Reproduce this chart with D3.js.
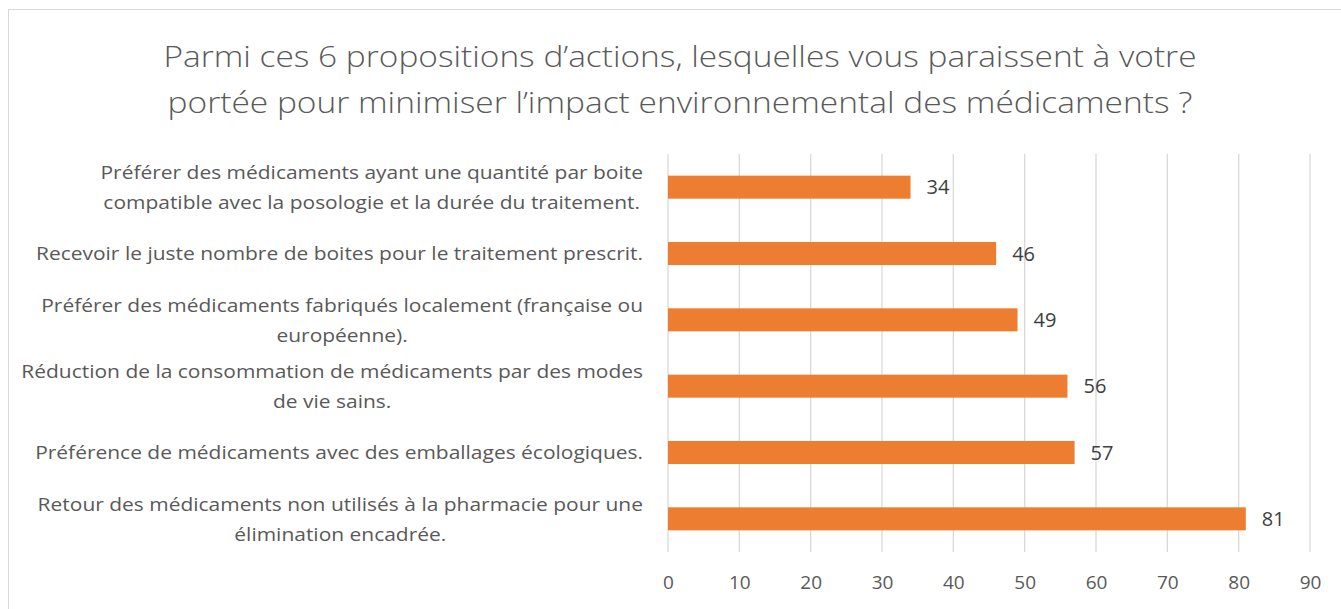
<!DOCTYPE html>
<html><head><meta charset="utf-8">
<script src="https://cdn.jsdelivr.net/npm/d3@7"></script>
<style>html,body{margin:0;padding:0;background:#fff;overflow:hidden}</style>
</head><body>
<svg id="chart" width="1341" height="609"></svg>
<script>
const titleLines = ["Parmi ces 6 propositions d’actions, lesquelles vous paraissent à votre",
                    "portée pour minimiser l’impact environnemental des médicaments ?"];
const categories = [
  ["Préférer des médicaments ayant une quantité par boite", "compatible avec la posologie et la durée du traitement."],
  ["Recevoir le juste nombre de boites pour le traitement prescrit."],
  ["Préférer des médicaments fabriqués localement (française ou", "européenne)."],
  ["Réduction de la consommation de médicaments par des modes", "de vie sains."],
  ["Préférence de médicaments avec des emballages écologiques."],
  ["Retour des médicaments non utilisés à la pharmacie pour une", "élimination encadrée."]
];
const values = [34, 46, 49, 56, 57, 81];
const xTicks = [0, 10, 20, 30, 40, 50, 60, 70, 80, 90];

const FONT = "'Open Sans', 'Noto Sans', sans-serif";
const svg = d3.select("#chart");

svg.append("rect").attr("x", 8.5).attr("y", 9.5).attr("width", 1400).attr("height", 700)
  .attr("fill", "#fff").attr("stroke", "#d9d9d9").attr("stroke-width", 1);

const x = d3.scaleLinear().domain([0, 90]).range([668, 1310]);
const keys = categories.map((c, i) => i);
const p = 0.653;
const y = d3.scaleBand().domain(keys).range([154, 552]).paddingInner(p).paddingOuter(p / 2);

// gridlines
svg.append("g").selectAll("line").data(xTicks).join("line")
  .attr("x1", d => x(d)).attr("x2", d => x(d)).attr("y1", 154).attr("y2", 552)
  .attr("stroke", "#d9d9d9").attr("stroke-width", 1.3);

// tick labels via axis
const ax = svg.append("g").attr("transform", "translate(0,575)")
  .call(d3.axisBottom(x).tickValues(xTicks).tickSize(0).tickPadding(0));
ax.select(".domain").remove();
ax.selectAll("text").attr("font-family", FONT).attr("font-size", 19).attr("fill", "#595959")
  .attr("dy", "0.71em");

// bars
svg.append("g").selectAll("rect").data(values).join("rect")
  .attr("x", x(0)).attr("y", (d, i) => y(i)).attr("width", d => x(d) - x(0))
  .attr("height", y.bandwidth()).attr("fill", "#ED7D31");

// value labels
svg.append("g").selectAll("text").data(values).join("text")
  .attr("x", d => x(d) + 16).attr("y", (d, i) => y(i) + y.bandwidth() / 2)
  .attr("dy", "0.36em").attr("font-family", FONT).attr("font-size", 20)
  .attr("fill", "#404040").text(d => d);

function measure(str, size) {
  const t = svg.append("text").attr("font-family", FONT).attr("font-size", size).text(str);
  const w = t.node().getComputedTextLength();
  t.remove();
  return w;
}

// category labels
const LS = 19;
const kLab = 607 / measure(categories[1][0], LS);
const labelRight = 643;
const lineH = 30;
const lg = svg.append("g");
categories.forEach((lines, i) => {
  const cy = y(i) + y.bandwidth() / 2;
  const widths = lines.map(l => measure(l, LS) * kLab);
  const bw = d3.max(widths);
  const cx = labelRight - bw / 2;
  lines.forEach((l, j) => {
    const ly = cy + (j - (lines.length - 1) / 2) * lineH;
    lg.append("text").attr("x", cx).attr("y", ly).attr("dy", "0.36em")
      .attr("text-anchor", "middle").attr("font-family", FONT).attr("font-size", LS)
      .attr("fill", "#595959").attr("textLength", widths[j]).attr("lengthAdjust", "spacingAndGlyphs")
      .text(l);
  });
});

// title
const TS = 30;
const kT = 1033 / measure(titleLines[0], TS);
titleLines.forEach((l, j) => {
  svg.append("text").attr("x", 680).attr("y", 67 + j * 46).attr("text-anchor", "middle")
    .attr("font-family", FONT).attr("font-size", TS).attr("font-weight", 300).attr("fill", "#595959")
    .attr("textLength", measure(l, TS) * kT).attr("lengthAdjust", "spacingAndGlyphs").text(l);
});
</script>
</body></html>
